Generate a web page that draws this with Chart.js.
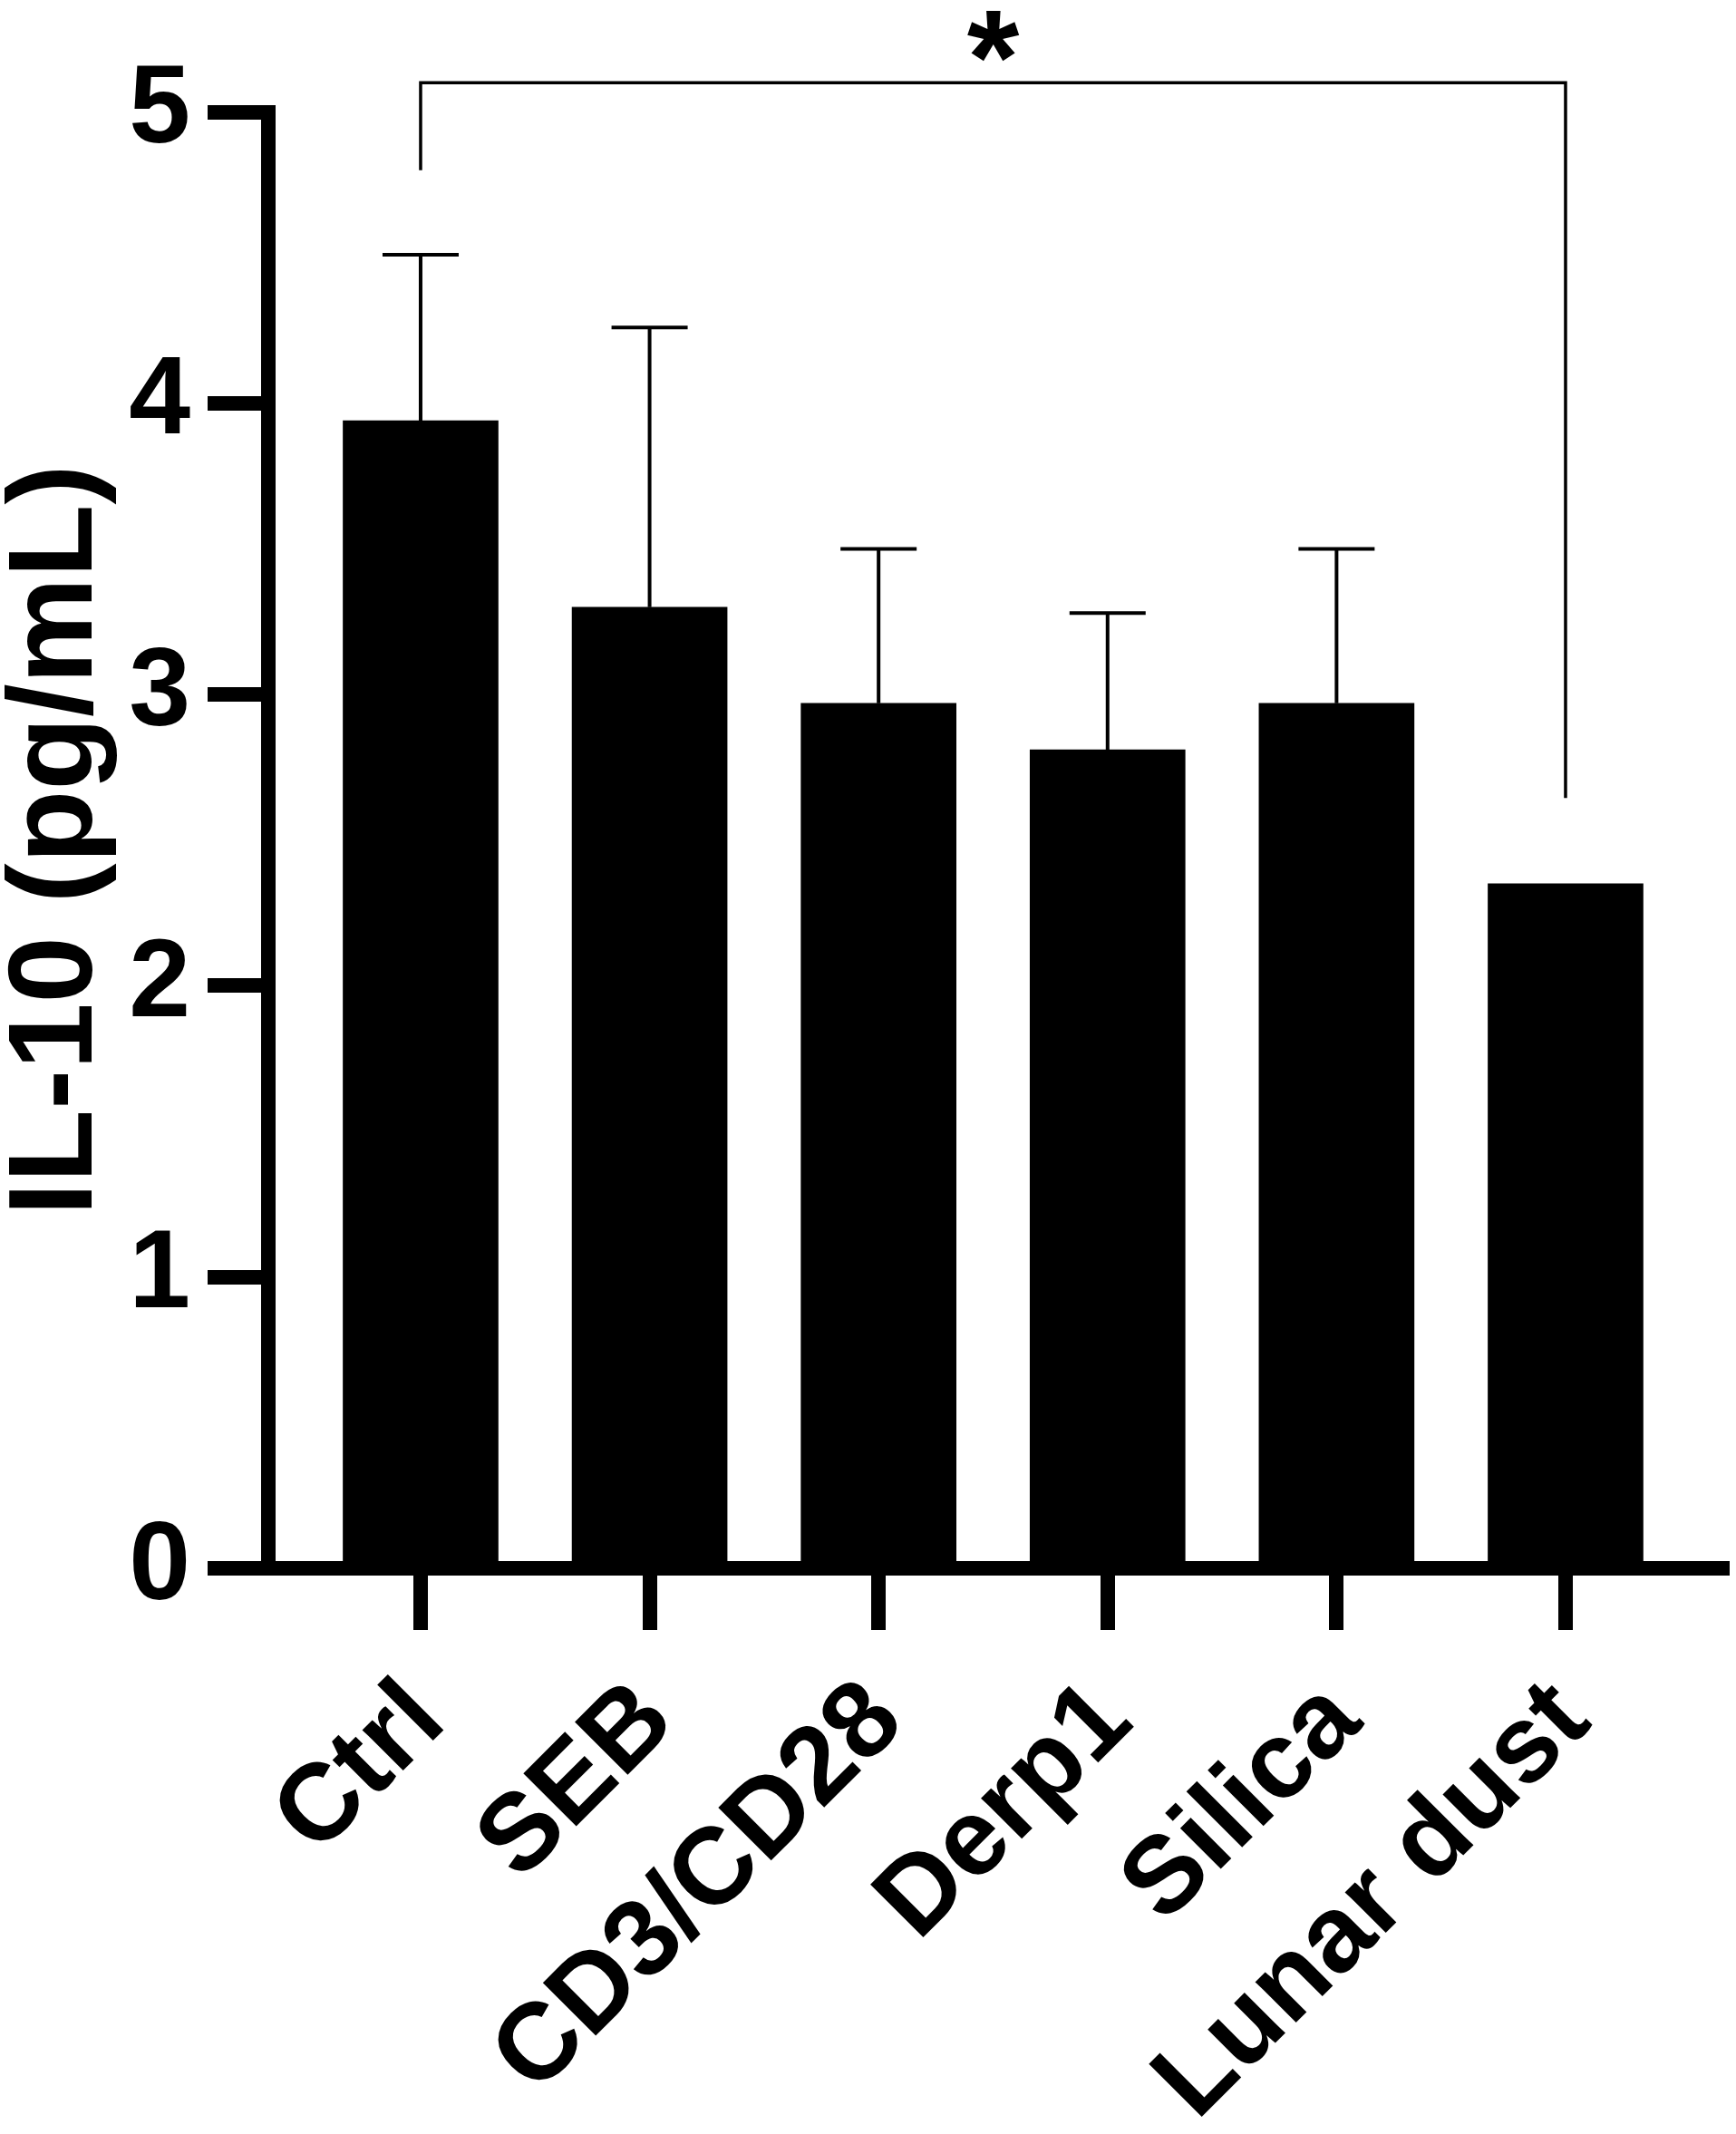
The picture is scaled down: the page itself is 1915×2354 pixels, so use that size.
<!DOCTYPE html>
<html>
<head>
<meta charset="utf-8">
<script src="https://cdn.jsdelivr.net/npm/chart.js@4.4.1/dist/chart.umd.min.js"></script>
<style>
  html, body { margin: 0; padding: 0; background: #fff; }
  #wrap { width: 1915px; height: 2354px; position: relative; }
</style>
</head>
<body>
<div id="wrap"><canvas id="myChart"></canvas></div>
<script>
// data
const categories = ['Ctrl', 'SEB', 'CD3/CD28', 'Derp1', 'Silica', 'Lunar dust'];
const means = [3.94, 3.30, 2.97, 2.81, 2.97, 2.35];
const errors = [0.57, 0.96, 0.53, 0.47, 0.53, 0];
const yTicks = [0, 1, 2, 3, 4, 5];

// significance bracket: Ctrl vs Lunar dust
const bracket = { from: 0, to: 5, level: 5.10, leftEnd: 4.80, rightEnd: 2.645, label: '*' };

const FONT = '"Liberation Sans", Arial, Helvetica, sans-serif';

// error bars (upper only) drawn on top of the bars
const errorBars = {
  id: 'errorBars',
  afterDatasetsDraw(chart) {
    const ctx = chart.ctx;
    const x = chart.scales.x, y = chart.scales.y;
    ctx.save();
    ctx.strokeStyle = '#000';
    ctx.lineWidth = 4;
    means.forEach((m, i) => {
      if (!errors[i]) return;
      const px = x.getPixelForValue(i);
      const yb = y.getPixelForValue(m);
      const yt = y.getPixelForValue(m + errors[i]);
      ctx.beginPath();
      ctx.moveTo(px, yb);
      ctx.lineTo(px, yt);
      ctx.moveTo(px - 42, yt);
      ctx.lineTo(px + 42, yt);
      ctx.stroke();
    });
    ctx.restore();
  }
};

// bracket + star
const sigBracket = {
  id: 'sigBracket',
  afterDraw(chart) {
    const ctx = chart.ctx;
    const x = chart.scales.x, y = chart.scales.y;
    const x1 = x.getPixelForValue(bracket.from);
    const x2 = x.getPixelForValue(bracket.to);
    const yl = y.getPixelForValue(bracket.level);
    ctx.save();
    ctx.strokeStyle = '#000';
    ctx.lineWidth = 3.5;
    ctx.beginPath();
    ctx.moveTo(x1, y.getPixelForValue(bracket.leftEnd));
    ctx.lineTo(x1, yl);
    ctx.lineTo(x2, yl);
    ctx.lineTo(x2, y.getPixelForValue(bracket.rightEnd));
    ctx.stroke();
    ctx.fillStyle = '#000';
    ctx.font = 'bold 148px ' + FONT;
    ctx.textAlign = 'center';
    ctx.textBaseline = 'alphabetic';
    ctx.fillText(bracket.label, (x1 + x2) / 2, yl + 23);
    ctx.restore();
  }
};

Chart.defaults.color = '#000';

const ctx = document.getElementById('myChart');

new Chart(ctx, {
  type: 'bar',
  data: {
    datasets: [{
      data: means.map((v, i) => ({ x: i, y: v })),
      backgroundColor: '#000',
      borderWidth: 0,
      barThickness: 171
    }]
  },
  options: {
    responsive: true,
    maintainAspectRatio: false,
    animation: false,
    layout: { padding: { top: 123.5, right: 15, left: 0, bottom: 0 } },
    plugins: {
      legend: { display: false },
      tooltip: { enabled: false }
    },
    scales: {
      x: {
        type: 'linear',
        position: 'bottom',
        min: -0.665,
        max: 5.685,
        offset: false,
        grid: { offset: false, drawOnChartArea: false, drawTicks: true, tickLength: 68, lineWidth: 16, tickWidth: 16, color: '#000' },
        border: { display: true, width: 16, color: '#000' },
        afterBuildTicks: (scale) => { scale.ticks = categories.map((c, i) => ({ value: i })); },
        afterFit: (scale) => { scale.height = 624; },
        ticks: {
          autoSkip: false,
          minRotation: 45,
          maxRotation: 45,
          padding: 30,
          labelOffset: 8,
          color: '#000',
          font: { family: FONT, size: 120, weight: 'bold', lineHeight: 1.2 },
          callback: (value) => categories[value]
        }
      },
      y: {
        min: 0,
        max: 5,
        afterBuildTicks: (scale) => { scale.ticks = yTicks.map(v => ({ value: v })); },
        afterFit: (scale) => { scale.width = 296; },
        grid: { drawOnChartArea: false, drawTicks: true, tickLength: 67, lineWidth: 16, tickWidth: 16, color: '#000' },
        border: { display: true, width: 16, color: '#000' },
        ticks: {
          padding: 19,
          color: '#000',
          font: { family: FONT, size: 122, weight: 'bold', lineHeight: 1.2 }
        },
        title: {
          display: true,
          text: 'IL-10 (pg/mL)',
          color: '#000',
          padding: { top: 8, bottom: 0 },
          font: { family: FONT, size: 132, weight: 'bold', lineHeight: 0.85 }
        }
      }
    }
  },
  plugins: [errorBars, sigBracket]
});
</script>
</body>
</html>
